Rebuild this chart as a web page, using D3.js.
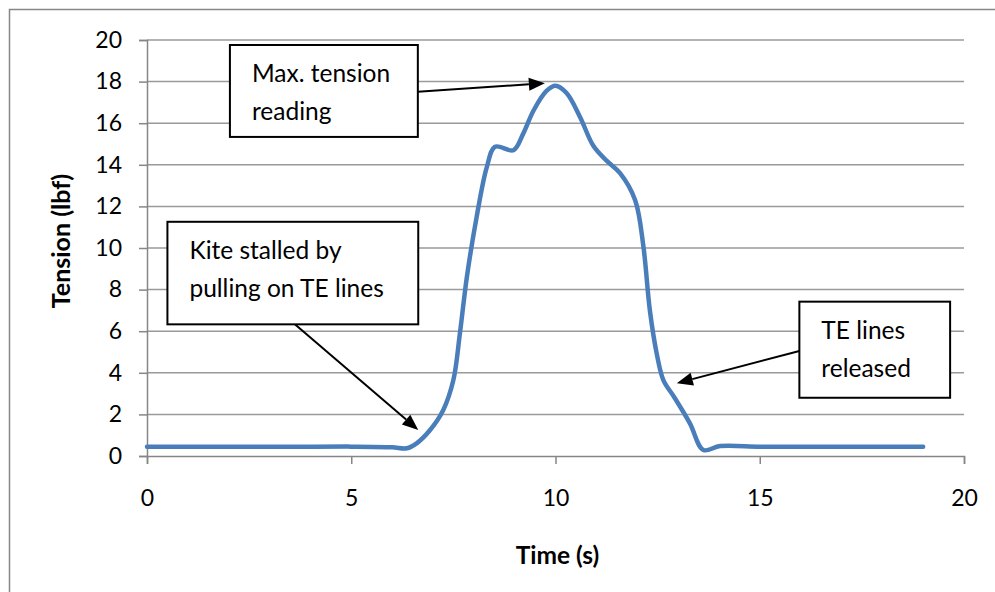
<!DOCTYPE html>
<html>
<head>
<meta charset="utf-8">
<script src="https://cdn.jsdelivr.net/npm/d3@7"></script>
<style>
  body { margin: 0; background: #fff; }
  text { font-family: Lato, "Open Sans", sans-serif; fill: #000; }
</style>
</head>
<body>
<div id="chart"></div>
<script>
// time (s) and tension (lbf)
var times = [0, 1, 2, 3, 4, 5, 6, 6.36, 6.6, 6.93, 7.25, 7.5, 7.66, 7.83, 8.07, 8.32, 8.52,
    8.97, 9.21, 9.46, 9.78, 10.0, 10.27, 10.6, 10.93, 11.25, 11.58, 11.95, 12.15, 12.31,
    12.48, 12.64, 12.9, 13.29, 13.62, 14.03, 15, 16, 17, 18, 19];
var tension = [0.45, 0.45, 0.45, 0.45, 0.45, 0.45, 0.42, 0.37, 0.61, 1.25, 2.2, 3.65, 5.9, 8.6, 11.5, 13.9, 14.87,
    14.7, 15.5, 16.6, 17.55, 17.8, 17.45, 16.3, 14.9, 14.2, 13.6, 12.3, 10.1, 7.0,
    4.9, 3.65, 2.85, 1.57, 0.29, 0.48, 0.45, 0.45, 0.45, 0.45, 0.45];
var xTicks = [0, 5, 10, 15, 20];
var yTicks = [0, 2, 4, 6, 8, 10, 12, 14, 16, 18, 20];

var notes = [
    {lines: ["Max. tension", "reading"], box: [2.03, 19.76, 6.63, 15.34], from: [6.63, 17.51], to: [9.74, 17.92]},
    {lines: ["Kite stalled by", "pulling on TE lines"], box: [0.5, 11.26, 6.64, 6.33], from: [3.62, 6.33], to: [6.64, 1.25]},
    {lines: ["TE lines", "released"], box: [15.97, 7.42, 19.66, 2.8], from: [15.97, 5.05], to: [12.97, 3.5]}
];

var W = 995, H = 592;
var margin = {top: 40, right: 31, bottom: 136, left: 147},
    width = W - margin.left - margin.right,
    height = H - margin.top - margin.bottom;

var root = d3.select("#chart").append("svg")
    .attr("width", W)
    .attr("height", H);

// outer chart frame (runs off the right/bottom edge)
root.append("rect")
    .attr("x", 9.5).attr("y", 9.5)
    .attr("width", W + 20).attr("height", H + 20)
    .attr("fill", "none")
    .attr("stroke", "#868686")
    .attr("stroke-width", 1.5);

var svg = root.append("g")
    .attr("transform", "translate(" + margin.left + "," + margin.top + ")");

var xScale = d3.scaleLinear().domain([0, 20]).range([0, width]);
var yScale = d3.scaleLinear().domain([0, 20]).range([height, 0]);

// gridlines
svg.append("g")
    .selectAll("line")
    .data(yTicks.filter(function(d) { return d > 0; }))
    .join("line")
    .attr("x1", 0).attr("x2", width)
    .attr("y1", function(d) { return yScale(d); })
    .attr("y2", function(d) { return yScale(d); })
    .attr("stroke", "#9a9a9a")
    .attr("stroke-width", 1.5);

var yAxis = svg.append("g")
    .call(d3.axisLeft(yScale).tickValues(yTicks).tickSize(8).tickPadding(17).tickFormat(d3.format("d")));
var xAxis = svg.append("g")
    .attr("transform", "translate(0," + height + ")")
    .call(d3.axisBottom(xScale).tickValues(xTicks).tickSize(8).tickPadding(26).tickFormat(d3.format("d")));

[yAxis, xAxis].forEach(function(ax) {
    ax.selectAll("path").attr("stroke", "#868686").attr("stroke-width", 1.5);
    ax.selectAll("line").attr("stroke", "#868686").attr("stroke-width", 1.5);
    ax.selectAll("text").attr("font-size", 23).attr("font-family", "Lato, sans-serif").attr("fill", "#000");
});

// axis titles
svg.append("text")
    .attr("x", width / 2 + 2)
    .attr("y", height + 108)
    .attr("text-anchor", "middle")
    .attr("font-size", 24.5)
    .attr("font-weight", "bold")
    .text("Time (s)");

svg.append("text")
    .attr("transform", "translate(" + (-77) + "," + (height / 2 - 7) + ") rotate(-90)")
    .attr("text-anchor", "middle")
    .attr("font-size", 25)
    .attr("font-weight", "bold")
    .text("Tension (lbf)");

// the series
var pts = times.map(function(t, i) { return [t, tension[i]]; });
var line = d3.line()
    .x(function(d) { return xScale(d[0]); })
    .y(function(d) { return yScale(d[1]); })
    .curve(d3.curveCatmullRom.alpha(0.5));

svg.append("path")
    .datum(pts)
    .attr("d", line)
    .attr("fill", "none")
    .attr("stroke", "#4a7ebb")
    .attr("stroke-width", 4.5)
    .attr("stroke-linejoin", "round")
    .attr("stroke-linecap", "round");

// callouts
notes.forEach(function(n) {
    var x0 = xScale(n.box[0]), y0 = yScale(n.box[1]),
        x1 = xScale(n.box[2]), y1 = yScale(n.box[3]);
    var fx = xScale(n.from[0]), fy = yScale(n.from[1]),
        tx = xScale(n.to[0]), ty = yScale(n.to[1]);
    var ang = Math.atan2(ty - fy, tx - fx), len = 16, half = 6.5;
    var bx = tx - len * Math.cos(ang), by = ty - len * Math.sin(ang);

    svg.append("line")
        .attr("x1", fx).attr("y1", fy)
        .attr("x2", bx).attr("y2", by)
        .attr("stroke", "#000").attr("stroke-width", 2);
    svg.append("polygon")
        .attr("points", [
            [tx, ty],
            [bx + half * Math.sin(ang), by - half * Math.cos(ang)],
            [bx - half * Math.sin(ang), by + half * Math.cos(ang)]
        ].map(function(p) { return p.join(","); }).join(" "))
        .attr("fill", "#000");

    svg.append("rect")
        .attr("x", x0).attr("y", y0)
        .attr("width", x1 - x0).attr("height", y1 - y0)
        .attr("fill", "#fff")
        .attr("stroke", "#000")
        .attr("stroke-width", 2);

    n.lines.forEach(function(s, i) {
        svg.append("text")
            .attr("x", x0 + 22)
            .attr("y", y0 + 37 + i * 38)
            .attr("font-size", 24.5)
            .text(s);
    });
});
</script>
</body>
</html>
